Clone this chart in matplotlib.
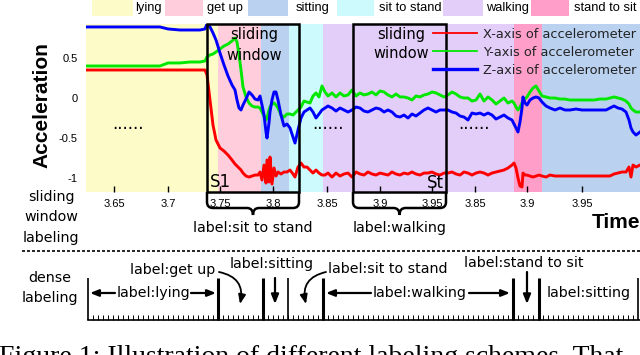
import numpy as np
import matplotlib
matplotlib.use("Agg")
import matplotlib.pyplot as plt
from matplotlib.patches import Rectangle, FancyArrowPatch, PathPatch
from matplotlib.path import Path

# accelerometer trace, x = sample index along the (spliced) recording
sample = [0, 14, 34, 54, 74, 82, 94, 104, 114, 119, 121, 124, 127, 130, 134, 138, 142, 146,
          149, 151, 153, 155, 157, 160, 163, 166, 169, 172, 174, 176, 178, 180, 181, 183, 184,
          186, 188, 190, 192, 195, 198, 201, 204, 207, 209, 212, 215, 218, 221, 224, 227, 230,
          233, 236, 239, 242, 246, 250, 254, 258, 262, 266, 270, 274, 278, 282, 286, 290, 294,
          298, 302, 306, 310, 314, 318, 322, 326, 330, 334, 338, 342, 346, 350, 354, 358, 362,
          366, 370, 374, 378, 382, 386, 390, 394, 398, 402, 406, 410, 414, 418, 422, 426, 428,
          430, 432, 434, 436, 437, 439, 441, 444, 447, 450, 453, 456, 460, 464, 469, 474, 479,
          484, 490, 496, 502, 508, 514, 520, 524, 528, 532, 536, 540, 543, 545, 547, 550, 554]
acc_z = [.888, .888, .888, .888, .888, .863, .85, .85, .85, .863, .925, .888, .813, .725, .563,
         .413, .275, .163, .10, -.025, -.125, -.15, -.088, -.013, .075, .038, -.013, -.025, .025,
         -.088, -.213, -.425, -.50, -.313, -.175, -.025, .075, .075, -.025, -.213, -.35, -.325,
         -.375, -.488, -.563, -.40, -.25, -.175, -.15, -.125, -.175, -.25, -.20, -.15, -.125,
         -.10, -.125, -.163, -.125, -.15, -.175, -.15, -.113, -.125, -.163, -.175, -.15, -.125,
         -.138, -.175, -.15, -.175, -.225, -.238, -.213, -.25, -.20, -.225, -.188, -.15, -.125,
         -.15, -.175, -.15, -.15, -.15, -.175, -.188, -.225, -.238, -.275, -.188, -.20, -.188,
         -.213, -.188, -.213, -.263, -.238, -.213, -.25, -.275, -.325, -.375, -.425, -.30, -.125,
         .013, -.063, -.088, -.025, 0, .013, 0, -.05, -.10, -.125, -.15, -.125, -.15, -.15, -.138,
         -.15, -.15, -.15, -.15, -.15, -.125, -.10, -.125, -.138, -.175, -.275, -.375, -.425,
         -.463, -.425]
acc_y = [.40, .40, .40, .40, .40, .438, .438, .45, .45, .463, .513, .538, .55, .575, .613, .65,
         .675, .713, .75, .70, .538, .35, .138, .013, -.063, -.10, -.113, -.113, -.125, -.175,
         -.225, -.275, -.25, -.15, -.113, -.075, -.063, -.088, -.125, -.213, -.238, -.20, -.20,
         -.213, -.188, -.15, -.113, -.038, -.05, -.063, .025, .063, .013, .15, .075, .025, .063,
         .013, .063, .025, .038, .10, .025, .063, .038, .05, .075, .038, .088, .075, .038, .013,
         .05, .013, .013, 0, -.025, .025, .013, .038, .05, .075, .063, .038, .013, .038, .075, .05,
         .013, 0, 0, -.038, -.025, .05, -.038, .013, -.025, -.075, -.038, 0, -.063, -.038, -.063,
         -.113, -.15, -.113, -.063, -.038, -.013, .013, .075, .125, .15, .088, .025, .013, 0, 0,
         -.013, -.013, -.025, -.025, -.025, -.025, -.025, -.013, -.013, 0, .013, 0, -.013, -.038,
         -.075, -.125, -.15, -.175, -.175]
acc_x = [.35, .35, .35, .35, .35, .35, .35, .35, .35, .35, .288, -.025, -.338, -.525, -.625,
         -.663, -.713, -.775, -.825, -.85, -.875, -.90, -.938, -.975, -.988, -.975, -.963, -.963,
         -.925, -1.025, -.838, -1.063, -.775, -1.05, -.738, -1.075, -.875, -.975, -.925, -.95,
         -.925, -.925, -.90, -.95, -.988, -.863, -.813, -.863, -.863, -.90, -.938, -.90, -.938,
         -.963, -.963, -.938, -.988, -.938, -.975, -.95, -.938, -.988, -.925, -.95, -.963, -.925,
         -.95, -.963, -.938, -.95, -.963, -.925, -.95, -.963, -.938, -.95, -.925, -.95, -.963,
         -.938, -.938, -.925, -.95, -.963, -.938, -.938, -.925, -.95, -.963, -.925, -.938, -.963,
         -.938, -.925, -.938, -.963, -.938, -.925, -.913, -.90, -.875, -.838, -.813, -.875, -1.0,
         -1.10, -1.113, -.938, -.963, -.963, -.975, -.988, -.975, -.963, -.975, -.988, -.963,
         -.975, -.975, -.975, -.975, -.975, -.975, -.975, -.975, -.975, -.975, -.975, -.95, -.938,
         -.925, -.925, -.863, -.988, -.838, -.863, -.838]

activities = ["lying", "get up", "sitting", "sit to stand", "walking", "stand to sit", "sitting"]
seg_edges = [0, 132, 175, 203, 237, 428, 456, 554]
act_colors = {"lying": "#fdfcc9", "get up": "#ffcddb", "sitting": "#bad2f0",
              "sit to stand": "#cdfafc", "walking": "#e3cdf9", "stand to sit": "#ff9ec9"}
tick_pos = [28, 82, 134, 187, 241, 294, 346, 389, 441, 496]
tick_labels = ["3.65", "3.7", "3.75", "3.8", "3.85", "3.9", "3.95", "3.85", "3.9", "3.95"]
windows = [(121, 213), (267, 360)]
window_labels = ["label:sit to stand", "label:walking"]

SANS = ["Liberation Sans", "DejaVu Sans"]
DV = ["DejaVu Sans"]
W, H = 640, 355

fig = plt.figure(figsize=(6.4, 3.55), dpi=100)
fig.patch.set_facecolor("white")

ax = fig.add_axes([86 / W, 1 - 192 / H, 554 / W, 168 / H])
ylo, yhi = -1.175, 0.925
for i, act in enumerate(activities):
    ax.axvspan(seg_edges[i], seg_edges[i + 1], color=act_colors[act], lw=0, zorder=0)

ax.plot(sample, acc_x, color="#ff0000", lw=2.1, label="X-axis of accelerometer", zorder=3)
ax.plot(sample, acc_y, color="#00e800", lw=2.1, label="Y-axis of accelerometer", zorder=3)
ax.plot(sample, acc_z, color="#0000ff", lw=2.1, label="Z-axis of accelerometer", zorder=3)

for x0, x1 in windows:
    ax.add_patch(Rectangle((x0, ylo), x1 - x0, yhi - ylo, fill=False, ec="black",
                           lw=1.8, zorder=5, clip_on=False))

ax.set_xlim(0, 554)
ax.set_ylim(ylo, yhi)
for s in ax.spines.values():
    s.set_visible(False)
ax.set_xticks(tick_pos, tick_labels)
ax.set_yticks([0.5, 0, -0.5, -1], ["0.5", "0", "-0.5", "-1"])
ax.tick_params(axis="x", direction="in", length=4, width=1, pad=5, labelsize=8)
ax.tick_params(axis="y", length=0, pad=6, labelsize=8)
for lab in ax.get_xticklabels() + ax.get_yticklabels():
    lab.set_family(SANS)

ax.set_ylabel("Acceleration", fontsize=15, fontweight="bold", family=SANS, ha="center", va="center")
ax.yaxis.set_label_coords(-0.0794, 0.518)
ax.set_xlabel("Time", fontsize=15, fontweight="bold", family=SANS, ha="left", va="center")
ax.xaxis.set_label_coords(0.913, -0.179)

leg = ax.legend(loc="upper left", bbox_to_anchor=(433 / W, 1 - 28 / H), bbox_transform=fig.transFigure,
                frameon=False, borderpad=0, borderaxespad=0, handlelength=3.4, handletextpad=0.45,
                labelspacing=0.38, prop={"family": DV, "size": 9.3})
for ln, lw in zip(leg.get_lines(), [1.3, 1.3, 2.4]):
    ln.set_linewidth(lw)
for t in leg.get_texts():
    t.set_color("#222222")

# overlay in pixel coordinates for the illustration parts
ov = fig.add_axes([0, 0, 1, 1], zorder=10)
ov.set_xlim(0, W)
ov.set_ylim(H, 0)
ov.axis("off")
ov.patch.set_alpha(0)

# activity colour key on top
key_boxes = [(92, 133), (165, 203), (248, 288), (337, 374), (443, 483), (531, 569)]
key_text_x = [135, 207, 296, 379, 486, 574]
for act, (b0, b1), tx in zip(activities[:6], key_boxes, key_text_x):
    ov.add_patch(Rectangle((b0, 0), b1 - b0, 16, color=act_colors[act], lw=0))
    ov.text(tx, 8, act, fontsize=9.3, family=SANS, va="center", ha="left")

# sliding window annotations
ov.text(254, 35, "sliding", fontsize=10.5, family=DV, ha="center", va="center")
ov.text(254, 55, "window", fontsize=10.5, family=DV, ha="center", va="center")
ov.text(401, 35, "sliding", fontsize=10.5, family=DV, ha="center", va="center")
ov.text(401, 53, "window", fontsize=10.5, family=DV, ha="center", va="center")
ov.text(210, 182, "S1", fontsize=12, family=DV, ha="left", va="center")
ov.text(444, 183, "St", fontsize=12, family=DV, ha="right", va="center")
for dx in [112, 312, 458]:
    ov.text(dx, 129, "......", fontsize=12, family=DV, ha="left", va="baseline")


def brace(x0, x1, ytop=192, ymid=208, ytip=215):
    xm = (x0 + x1) / 2
    verts = [(x0, ytop), (x0, ymid - 6), (x0, ymid), (x0 + 6, ymid), (xm - 6, ymid),
             (xm, ymid), (xm, ytip), (xm, ymid), (xm + 6, ymid), (x1 - 6, ymid),
             (x1, ymid), (x1, ymid - 6), (x1, ytop)]
    codes = [Path.MOVETO, Path.LINETO, Path.CURVE3, Path.CURVE3, Path.LINETO,
             Path.CURVE3, Path.CURVE3, Path.CURVE3, Path.CURVE3, Path.LINETO,
             Path.CURVE3, Path.CURVE3, Path.LINETO]
    ov.add_patch(PathPatch(Path(verts, codes), fill=False, lw=1.8, ec="black"))


for (px0, px1), lab in zip([(207, 299), (353, 446)], window_labels):
    brace(px0, px1)
    ov.text((px0 + px1) / 2, 228, lab, fontsize=10.3, family=DV, ha="center", va="center")

ov.text(51, 197, "sliding", fontsize=10.3, family=DV, ha="center", va="center")
ov.text(51, 217, "window", fontsize=10.3, family=DV, ha="center", va="center")
ov.text(51, 238, "labeling", fontsize=10.3, family=DV, ha="center", va="center")
ov.plot([22, 640], [251, 251], color="black", lw=1.2, linestyle=(0, (1.8, 1.2)))

# dense labeling ruler
ov.text(50, 278, "dense", fontsize=10.3, family=DV, ha="center", va="center")
ov.text(50, 298, "labeling", fontsize=10.3, family=DV, ha="center", va="center")
ov.plot([88, 640], [320, 320], color="black", lw=1.2)
ov.vlines(np.arange(93, 637, 5), 315, 320, color="black", lw=0.7)
for sx, lw in [(88, 1.2), (218, 2.2), (263, 2.2), (288, 1.2), (323, 2.2), (513, 2.2),
               (539, 2.2), (638, 1.2)]:
    ov.plot([sx, sx], [278, 320], color="black", lw=lw, solid_capstyle="butt")


def arrow(p0, p1, rad=0.0, hl=0.55, hw=0.22, lw=1.3):
    ov.add_patch(FancyArrowPatch(p0, p1, connectionstyle=f"arc3,rad={rad}",
                                 arrowstyle=f"-|>,head_length={hl},head_width={hw}",
                                 mutation_scale=10, lw=lw, color="black", shrinkA=0, shrinkB=0))


ov.text(153, 293, "label:lying", fontsize=10.3, family=DV, ha="center", va="center")
arrow((115, 293), (90, 293), hl=0.5, hw=0.2, lw=1.6)
arrow((191, 293), (216, 293), hl=0.5, hw=0.2, lw=1.6)
ov.text(420, 293, "label:walking", fontsize=10.3, family=DV, ha="center", va="center")
arrow((371, 293), (326, 293), hl=0.5, hw=0.2, lw=1.6)
arrow((469, 293), (510, 293), hl=0.5, hw=0.2, lw=1.6)
ov.text(547, 293, "label:sitting", fontsize=10.3, family=DV, ha="left", va="center")

ov.text(215, 270, "label:get up", fontsize=10.3, family=DV, ha="right", va="center")
arrow((219, 272), (240, 304), rad=-0.5)
ov.text(272, 264, "label:sitting", fontsize=10.3, family=DV, ha="center", va="center")
arrow((275, 278), (275, 304), lw=1.6)
ov.text(328, 269, "label:sit to stand", fontsize=10.3, family=DV, ha="left", va="center")
arrow((326, 272), (306, 304), rad=0.5)
ov.text(524, 263, "label:stand to sit", fontsize=10.3, family=DV, ha="center", va="center")
arrow((527, 272), (527, 304), lw=1.6)

# caption, cut off at the bottom edge as in the source image
ov.text(-1, 364, "Figure 1: Illustration of different labeling schemes. That",
        fontsize=20, family=["Liberation Serif", "DejaVu Serif"], ha="left", va="baseline")

fig.savefig("out.png", dpi=100, facecolor="white")
